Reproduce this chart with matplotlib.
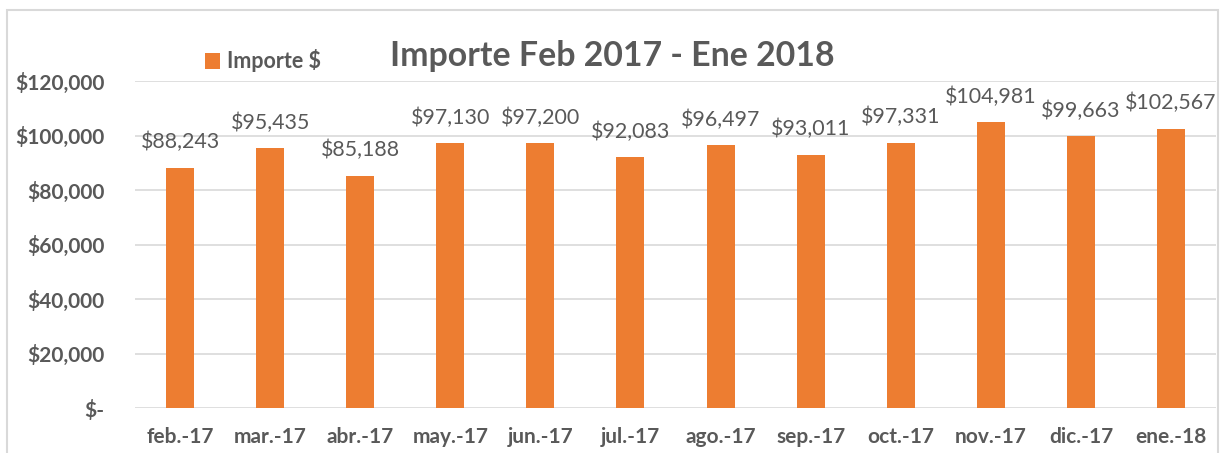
import matplotlib
matplotlib.use("Agg")
import matplotlib.pyplot as plt
from matplotlib.patches import Rectangle

categories = ["feb.-17", "mar.-17", "abr.-17", "may.-17", "jun.-17", "jul.-17",
              "ago.-17", "sep.-17", "oct.-17", "nov.-17", "dic.-17", "ene.-18"]
importe = [88243, 95435, 85188, 97130, 97200, 92083, 96497, 93011, 97331, 104981, 99663, 102567]
yticks = [0, 20000, 40000, 60000, 80000, 100000, 120000]
ytick_labels = ["$-", "$20,000", "$40,000", "$60,000", "$80,000", "$100,000", "$120,000"]

FONT = ["Lato", "DejaVu Sans"]
GRAY = "#595959"
ORANGE = "#ED7D31"

fig = plt.figure(figsize=(12.25, 4.53), dpi=100)
fig.patches.append(Rectangle((7/1225, -0.05), (1218-7)/1225, 1 - 10/453 + 0.05,
                             transform=fig.transFigure, fill=False,
                             edgecolor="#D9D9D9", linewidth=1.5))
ax = fig.add_axes([135/1225, 1-408/453, (1216-135)/1225, (408-81)/453])

x = list(range(len(categories)))
bars = ax.bar(x, importe, width=0.31, color=ORANGE, label="Importe $", zorder=3)
for xi, v in zip(x, importe):
    ax.annotate(f"${v:,}", (xi, v), xytext=(0, 11), textcoords="offset points",
                ha="center", va="bottom", fontsize=15.4, color=GRAY, family=FONT)

ax.set_xlim(-0.5, len(categories) - 0.5)
ax.set_ylim(0, 120000)
ax.set_yticks(yticks)
ax.set_yticklabels(ytick_labels, fontsize=15, fontweight="bold", color=GRAY, family=FONT)
ax.set_xticks(x)
ax.set_xticklabels(categories, fontsize=15, fontweight="bold", color=GRAY, family=FONT)
ax.tick_params(axis="x", length=0, pad=14)
ax.tick_params(axis="y", length=0, pad=22)
ax.grid(axis="y", color="#D9D9D9", linewidth=1.2, zorder=0)
for s in ax.spines.values():
    s.set_visible(False)

fig.text(612/1225, 1-56/453, "Importe Feb 2017 - Ene 2018", ha="center", va="center",
         fontsize=24.4, fontweight="bold", color=GRAY, family=FONT)
leg = fig.legend(handles=[bars], labels=["Importe $"], loc="center left",
                 bbox_to_anchor=(186/1225, 1-61/453), frameon=False,
                 handlelength=0.7, handleheight=0.7, handletextpad=0.3,
                 prop={"family": FONT, "weight": "bold", "size": 15.5})
for t in leg.get_texts():
    t.set_color(GRAY)

fig.savefig("out.png", dpi=100)
